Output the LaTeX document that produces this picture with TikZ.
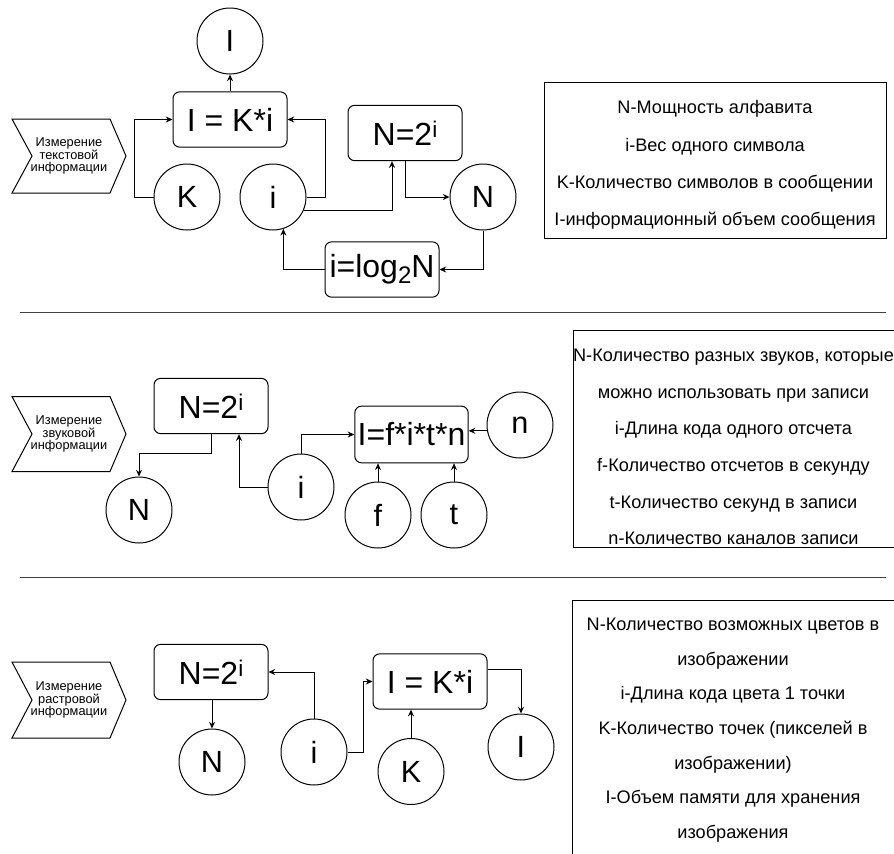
\documentclass[tikz,border=0pt]{standalone}
\usepackage{fontspec}
\setmainfont{Liberation Sans}
\usetikzlibrary{arrows.meta,calc}
\newcommand{\mysupi}{\raisebox{6pt}{\fontsize{17}{17}\selectfont i}}
\newcommand{\mysubtwo}{\raisebox{-4pt}{\fontsize{18}{18}\selectfont 2}}
\begin{document}
\begin{tikzpicture}[x=0.75pt,y=-0.75pt,
  every node/.style={font=\fontsize{23}{27}\selectfont},
  circ/.style={draw, circle, minimum size=49.5pt, inner sep=0pt, line width=0.75pt},
  fbox/.style={draw, rounded corners=5pt, minimum width=85.5pt, minimum height=41.5pt, inner sep=0pt, line width=0.75pt, font=\fontsize{24}{28}\selectfont},
  arr/.style={draw, line width=0.75pt, -{Stealth[length=5pt,width=4.5pt]}},
  chev/.style={draw, line width=0.75pt},
  chevtext/.style={align=center, font=\fontsize{9.6}{9.6}\selectfont},
  legbox/.style={draw, line width=0.75pt, anchor=north west, inner sep=0pt},
  divider/.style={draw, line width=0.75pt, black!75}
]
\useasboundingbox (0,0) rectangle (894,854);

% ---------- top section ----------
\draw[chev] (12,119) -- (110,119) -- (126,156) -- (110,193) -- (12,193) -- (32,156) -- cycle;
\node[chevtext] (ch1) at (69,156) {Измерение\\текстовой\\информации};

\node[circ] (Ia) at (230,41) {I};
\node[fbox] (IKa) at (230,119.5) {I = K*i};
\node[circ] (Ka) at (187,197) {K};
\node[circ] (ia) at (273,197) {i};
\node[fbox] (N2a) at (405,133) {N=2\mysupi};
\node[circ] (Na) at (483,197) {N};
\node[fbox] (loga) at (382,269.5) {i=log\mysubtwo N};

\draw[arr] (IKa.north) -- (Ia.south);
\draw[arr] (Ka.west) -- ++(-19,0) |- (IKa.west);
\draw[arr] (ia.east) -- ++(19,0) |- (IKa.east);
\draw[arr] (ia.-23) -| ($(N2a.south)+(-13,0)$);
\draw[arr] (N2a.south) |- (Na.west);
\draw[arr] (Na.south) |- (loga.east);
\draw[arr] (loga.west) -| (ia.-72);

\node[legbox, minimum width=256.5pt, minimum height=117pt] (leg1) at (544,82) {};
\node[align=center, font=\fontsize{13.6}{28}\selectfont] (leg1t) at (715,165)
  {N-Мощность алфавита\\i-Вес одного символа\\K-Количество символов в сообщении\\I-информационный объем сообщения};

\draw[divider] (20,312) -- (886,312);

% ---------- middle section ----------
\draw[chev] (12,396.5) -- (110,396.5) -- (126,434) -- (110,471.5) -- (12,471.5) -- (32,434) -- cycle;
\node[chevtext] (ch2) at (69,434) {Измерение\\звуковой\\информации};

\node[fbox] (N2b) at (211,406) {N=2\mysupi};
\node[circ] (Nb) at (139,510) {N};
\node[circ] (ib) at (301,487) {i};
\node[fbox, minimum width=85pt, minimum height=42.5pt] (Fb) at (411.5,434.5) {I=f*i*t*n};
\node[circ] (nb) at (520,425) {n};
\node[circ] (fb) at (378,515) {f};
\node[circ] (tb) at (454,515) {t};

\draw[arr] (N2b.south) -- ++(0,19) -| (Nb.north);
\draw[arr] (ib.west) -| ($(N2b.south)+(28,0)$);
\draw[arr] (ib.north) |- (Fb.west);
\draw[arr] (nb.190) -- (nb.190 -| Fb.east);
\draw[arr] (fb.north) -- (fb.north |- Fb.south);
\draw[arr] (tb.north) -- (tb.north |- Fb.south);

\node[legbox, minimum width=242.25pt, minimum height=162.75pt] (leg2) at (573,330) {};
\node[align=center, font=\fontsize{13.6}{27.45}\selectfont] (leg2t) at (733.5,447)
  {N-Количество разных звуков, которые\\можно использовать при записи\\i-Длина кода одного отсчета\\f-Количество отсчетов в секунду\\t-Количество секунд в записи\\n-Количество каналов записи};

\draw[divider] (20,577) -- (886,577);

% ---------- bottom section ----------
\draw[chev] (12,662) -- (110,662) -- (126,700) -- (110,738) -- (12,738) -- (32,700) -- cycle;
\node[chevtext] (ch3) at (69,700) {Измерение\\растровой\\информации};

\node[fbox] (N2c) at (211,672) {N=2\mysupi};
\node[circ] (Nc) at (212,762) {N};
\node[circ] (ic) at (314,752) {i};
\node[fbox] (IKc) at (430,681.5) {I = K*i};
\node[circ] (Kc) at (411,771.5) {K};
\node[circ] (Ic) at (521,747) {I};

\draw[arr] (N2c.south -| Nc.north) -- (Nc.north);
\draw[arr] (ic.north) |- (N2c.east);
\draw[arr] (ic.east) -- ++(16,0) |- (IKc.west);
\draw[arr] (Kc.north) -- (Kc.north |- IKc.south);
\draw[arr] ($(IKc.east)+(0,-12)$) -| (Ic.north);

\node[legbox, minimum width=243pt, minimum height=192pt] (leg3) at (572,600) {};
\node[align=center, font=\fontsize{13.6}{26}\selectfont] (leg3t) at (733,730)
  {N-Количество возможных цветов в\\изображении\\i-Длина кода цвета 1 точки\\K-Количество точек (пикселей в\\изображении)\\I-Объем памяти для хранения\\изображения};
\end{tikzpicture}
\end{document}
